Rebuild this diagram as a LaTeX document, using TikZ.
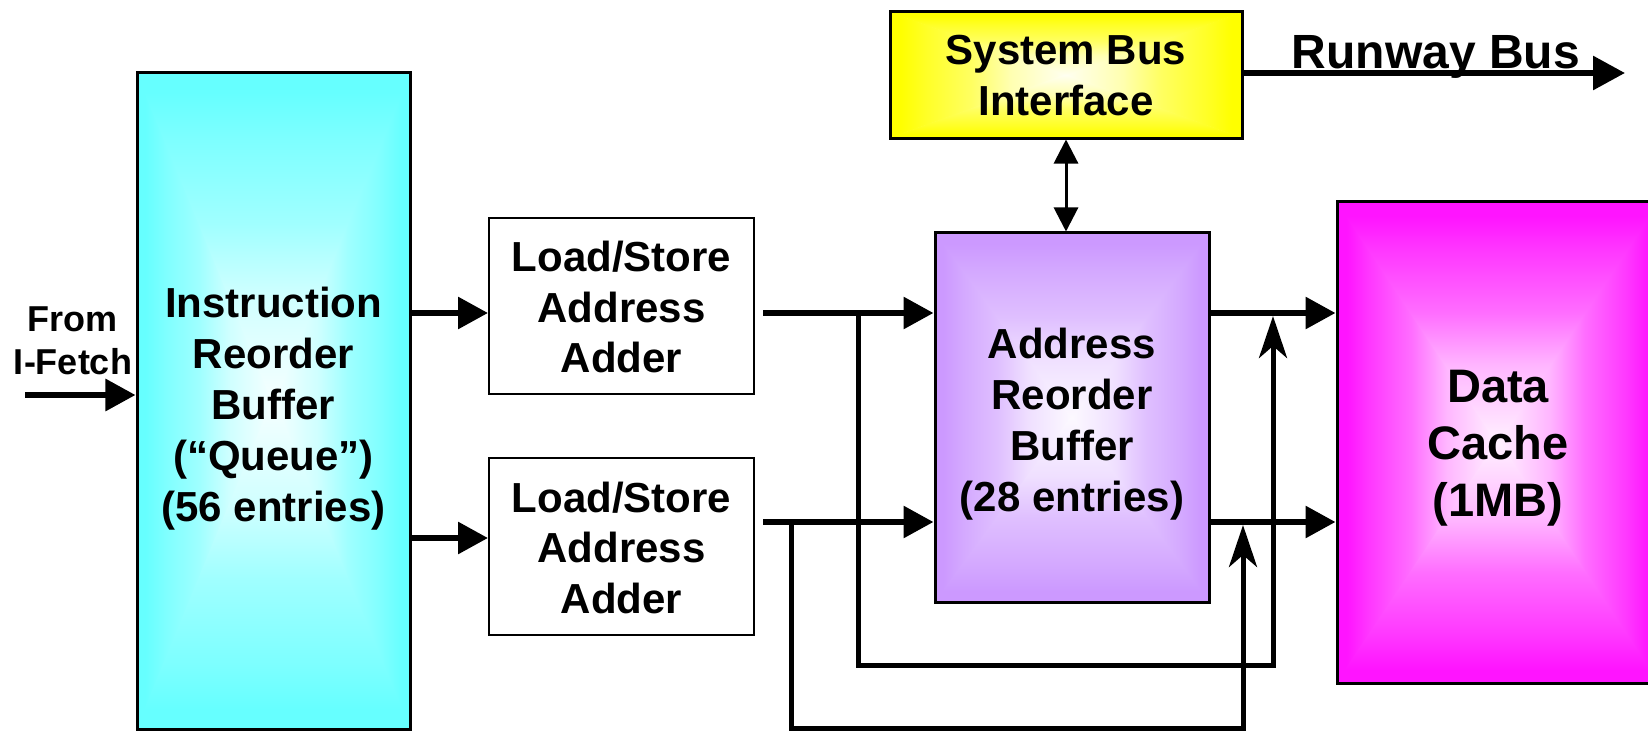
\documentclass[tikz,border=0pt]{standalone}
\usepackage{fontspec}
\setmainfont{Liberation Sans}
\usetikzlibrary{arrows.meta,calc}
\begin{document}

\definecolor{irbcyan}{HTML}{66FFFF}
\definecolor{arbviolet}{HTML}{CC99FF}
\definecolor{sbiyellow}{HTML}{FFFF00}
\definecolor{dcmagenta}{HTML}{FF14FF}

% Fade from a saturated edge (75bp) to a near-white centre (25bp)
\newcommand\declfade[2]{%
  \pgfdeclareverticalshading{#1}{100bp}{%
    color(0bp)=(#2!6!white); color(25bp)=(#2!6!white);
    color(41bp)=(#2!31!white); color(52bp)=(#2!62!white);
    color(65bp)=(#2!85!white); color(72bp)=(#2); color(100bp)=(#2)}}
\declfade{fadecyan}{irbcyan}
\declfade{fadeviolet}{arbviolet}
\declfade{fadeyellow}{sbiyellow}
\declfade{fademagenta}{dcmagenta}

% Rectangle filled with a centre-out fade: four triangles meeting at the centre
% #1 shading, #2 x0, #3 y0, #4 x1, #5 y1
\newcommand\edgefade[5]{%
  \pgfmathsetmacro\efx{(#2+#4)/2}%
  \pgfmathsetmacro\efy{(#3+#5)/2}%
  \shade[shading=#1,shading angle=90] (#2,#3) -- (\efx,\efy) -- (#2,#5) -- cycle;
  \shade[shading=#1,shading angle=-90] (#4,#3) -- (\efx,\efy) -- (#4,#5) -- cycle;
  \shade[shading=#1,shading angle=0] (#2-1,#3) -- (#4+1,#3) -- (\efx+2,\efy) -- (\efx-2,\efy) -- cycle;
  \shade[shading=#1,shading angle=180] (#2-1,#5) -- (#4+1,#5) -- (\efx+2,\efy) -- (\efx-2,\efy) -- cycle;
}

\begin{tikzpicture}[x=1bp, y=-1bp,
  blk/.style={draw=black, line width=3bp, inner sep=0pt},
  txt/.style={inner sep=0pt, align=center, font=\fontsize{42bp}{50.5bp}\selectfont\bfseries},
  wire/.style={line width=6bp, -{Triangle[length=30bp,width=31bp]}},
  loopwire/.style={line width=5bp, -{Stealth[length=42bp,width=28bp,inset=12bp]}},
  linkwire/.style={line width=3bp, {Triangle[length=24bp,width=24bp]}-{Triangle[length=24bp,width=24bp]}},
]
\useasboundingbox (0,0) rectangle (1648,731);
\clip (0,0) rectangle (1648,731);
\fill[white] (0,0) rectangle (1648,731);

% coloured fills
\edgefade{fadecyan}{137}{73}{410}{729}
\edgefade{fadeviolet}{935}{233}{1209}{602}
\edgefade{fadeyellow}{890}{12}{1242}{138}
\edgefade{fademagenta}{1337}{202}{1659}{683}

% blocks
\node[blk, minimum width=273bp, minimum height=656bp] (irb) at (273.5,401) {};
\node[blk, line width=2bp, minimum width=265bp, minimum height=176bp] (ls1) at (621.5,306) {};
\node[blk, line width=2bp, minimum width=265bp, minimum height=177bp] (ls2) at (621.5,546.5) {};
\node[blk, minimum width=274bp, minimum height=369bp] (arb) at (1072,417.5) {};
\node[blk, minimum width=322bp, minimum height=481bp] (dc) at (1498,442.5) {};
\node[blk, minimum width=352bp, minimum height=126bp] (sbi) at (1066,75) {};

% block texts
\node[txt, font=\fontsize{42bp}{51bp}\selectfont\bfseries] (irbtext) at ($(irb.center)+(0,7.9)$) {Instruction\\Reorder\\Buffer\\(“Queue”)\\(56 entries)};
\node[txt] (ls1text) at ($(ls1.center)+(0,1)$) {Load/Store\\Address\\Adder};
\node[txt] (ls2text) at ($(ls2.center)+(0,1)$) {Load/Store\\Address\\Adder};
\node[txt, font=\fontsize{42bp}{51bp}\selectfont\bfseries] (arbtext) at ($(arb.center)+(0,6.8)$) {Address\\Reorder\\Buffer\\(28 entries)};
\node[txt, font=\fontsize{47bp}{57bp}\selectfont\bfseries] (dctext) at ($(dc.center)+(0,5.5)$) {Data\\Cache\\(1MB)};
\node[txt] (sbitext) at ($(sbi.center)+(0,0.5)$) {System Bus\\Interface};
\node[txt, font=\fontsize{36bp}{43bp}\selectfont\bfseries] (fetchlbl) at (73,340.5) {From\\I-Fetch};
\node[inner sep=0pt, anchor=base, font=\fontsize{48bp}{56bp}\selectfont\bfseries] (buslbl) at (1436,69) {Runway Bus};

% signal rows
\coordinate (rowA) at (0,313);
\coordinate (rowB) at (0,538);
\coordinate (rowC) at (0,522);
\coordinate (lowA) at (0,665);
\coordinate (lowC) at (0,728);

% bypass paths around the address reorder buffer
\coordinate (tapA) at (858,313);
\coordinate (joinA) at (1273,316);
\coordinate (tapC) at (791,522);
\coordinate (joinC) at (1243,525);
\draw[loopwire] (tapA) -- (tapA |- lowA) -| (joinA);
\draw[loopwire] (tapC) -- (tapC |- lowC) -| (joinC);

% instruction fetch input
\coordinate (fetch) at (25,395);
\draw[wire] (fetch) -- (fetch -| irb.west);

% queue to adders
\draw[wire] (irb.east |- rowA) -- (ls1.west |- rowA);
\draw[wire] (irb.east |- rowB) -- (ls2.west |- rowB);

% adders to address reorder buffer
\coordinate (srcA) at ($(ls1.east |- rowA)+(8,0)$);
\coordinate (srcC) at ($(ls2.east |- rowC)+(8,0)$);
\draw[wire] (srcA) -- (arb.west |- rowA);
\draw[wire] (srcC) -- (arb.west |- rowC);

% address reorder buffer to data cache
\draw[wire] (arb.east |- rowA) -- (dc.west |- rowA);
\draw[wire] (arb.east |- rowC) -- (dc.west |- rowC);

% system bus interface
\draw[linkwire] (sbi.south) -- (sbi.south |- arb.north);
\coordinate (busend) at (1625,73);
\draw[line width=6bp, -{Triangle[length=32bp,width=33bp]}] (sbi.east |- busend) -- (busend);
\end{tikzpicture}
\end{document}
